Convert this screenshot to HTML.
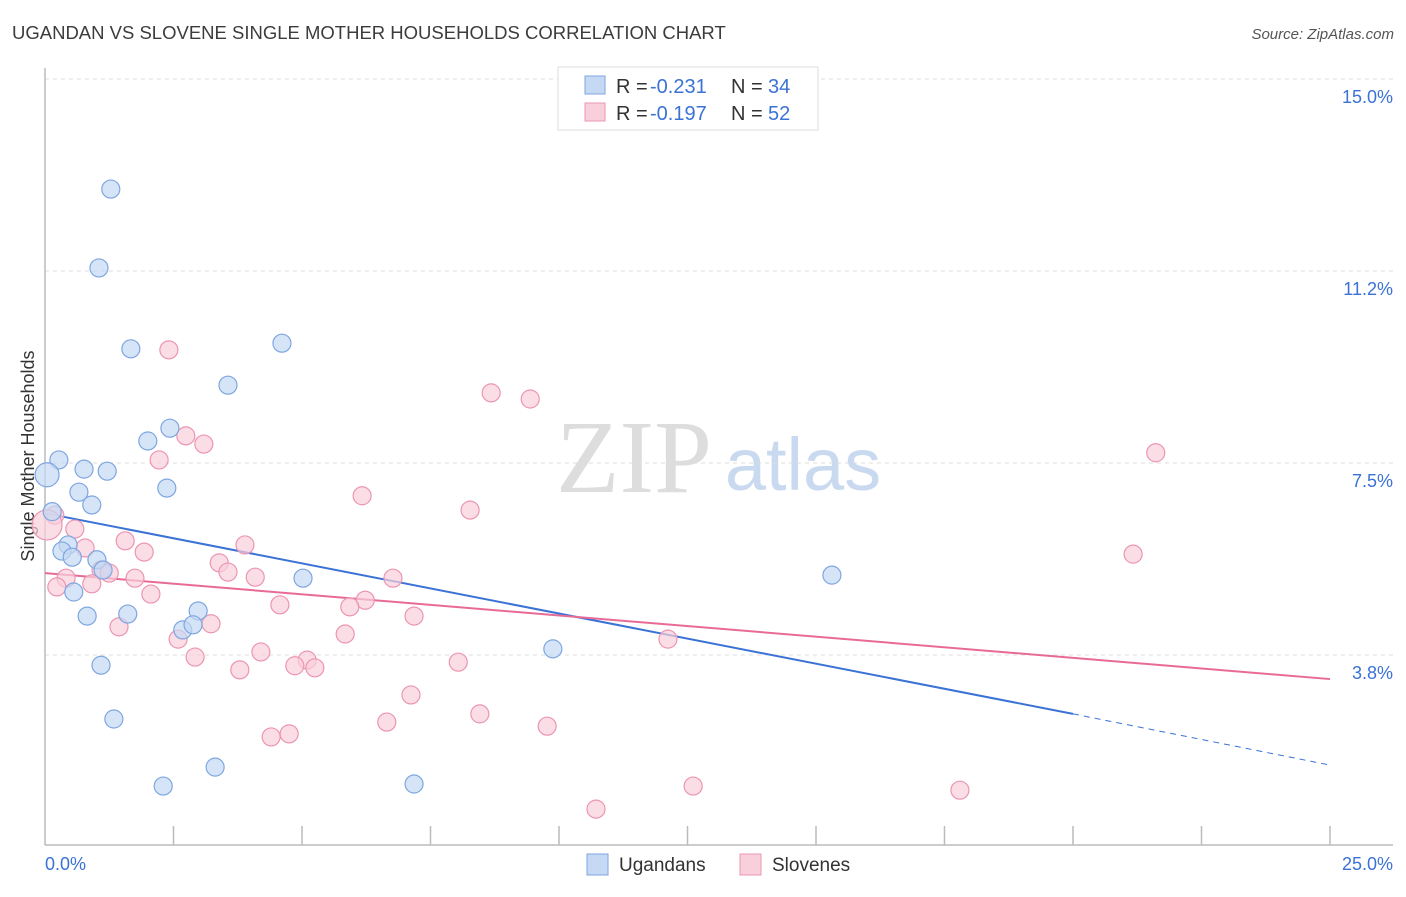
<!DOCTYPE html>
<html><head><meta charset="utf-8"><style>
body{margin:0;background:#fff;font-family:"Liberation Sans",sans-serif;}
svg text{font-family:"Liberation Sans",sans-serif;}
</style></head><body>
<svg id="chart" width="1406" height="892" viewBox="0 0 1406 892">
<text x="12" y="39" font-size="18.5" fill="#3c3c3c">UGANDAN VS SLOVENE SINGLE MOTHER HOUSEHOLDS CORRELATION CHART</text>
<text x="1394" y="39" font-size="15" fill="#555" font-style="italic" text-anchor="end">Source: ZipAtlas.com</text>
<text x="0" y="0" transform="translate(34,456) rotate(-90)" font-size="18" fill="#333" text-anchor="middle">Single Mother Households</text>
<g>
<text x="634" y="492" font-size="104" fill="#ddd" text-anchor="middle" style="font-family:'Liberation Serif',serif">ZIP</text>
<text x="803" y="490" font-size="74" fill="#c9daf0" text-anchor="middle">atlas</text>
</g>
<g id="grid"></g><g id="axes"></g><g id="trends"></g><g id="points"></g>
<g>
<rect x="558" y="67" width="260" height="63" fill="#fff" stroke="#ddd"/>
<rect x="585" y="76" width="20" height="18" fill="#c5d9f4" stroke="#7ea6e0"/>
<rect x="585" y="103" width="20" height="18" fill="#f9cfdc" stroke="#ec95b2"/>
<g font-size="20" fill="#333">
<text x="616" y="93">R =</text><text x="650" y="93" fill="#3b72d6">-0.231</text>
<text x="731" y="93">N =</text><text x="768" y="93" fill="#3b72d6">34</text>
</g>
<g font-size="20" fill="#333">
<text x="616" y="120">R =</text><text x="650" y="120" fill="#3b72d6">-0.197</text>
<text x="731" y="120">N =</text><text x="768" y="120" fill="#3b72d6">52</text>
</g>
</g>
<g>
<rect x="587" y="854" width="21" height="21" fill="#c5d9f4" stroke="#7ea6e0"/>
<text x="619" y="871" font-size="19" fill="#333">Ugandans</text>
<rect x="740" y="854" width="21" height="21" fill="#f9cfdc" stroke="#ec95b2"/>
<text x="772" y="871" font-size="19" fill="#333">Slovenes</text>
</g>
</svg>
<script>
const yTicks=[15.0,11.25,7.5,3.75];
const yTickLabels=["15.0%","11.2%","7.5%","3.8%"];
const xTickLabels=["0.0%","25.0%"];
const ugX=[1.28,1.05,1.67,4.61,3.56,2.00,2.43,0.27,0.76,1.21,0.04,0.66,2.37,0.91,0.14,0.45,0.33,0.53,1.01,1.13,5.02,15.31,0.56,0.82,1.61,2.98,2.68,2.88,9.88,1.09,1.34,3.31,2.30,7.18];
const ugY=[12.85,11.31,9.73,9.84,9.02,7.93,8.18,7.56,7.38,7.34,7.27,6.93,7.01,6.68,6.55,5.90,5.78,5.66,5.61,5.41,5.25,5.31,4.98,4.51,4.55,4.61,4.24,4.34,3.87,3.55,2.50,1.56,1.19,1.23];
const slX=[2.41,8.68,9.44,2.74,3.09,2.22,21.61,6.17,8.27,0.19,0.04,0.58,1.56,3.89,1.93,0.78,21.17,3.39,3.56,1.09,1.25,0.41,1.75,4.09,6.77,0.23,0.91,2.06,6.23,5.93,4.57,7.18,1.44,3.23,5.84,2.59,12.12,4.20,2.92,8.04,5.10,4.86,5.25,3.79,7.12,8.46,6.65,9.77,4.75,4.40,12.61,17.80,10.72];
const slY=[9.71,8.87,8.75,8.03,7.87,7.56,7.70,6.86,6.58,6.48,6.29,6.21,5.98,5.90,5.76,5.84,5.72,5.55,5.37,5.41,5.35,5.25,5.25,5.27,5.25,5.08,5.14,4.94,4.82,4.69,4.73,4.51,4.30,4.36,4.16,4.06,4.06,3.81,3.71,3.61,3.65,3.54,3.50,3.46,2.97,2.60,2.44,2.36,2.21,2.15,1.19,1.11,0.74];
const ugTrend=[6.52,2.60,1.60];
const slTrend=[5.35,3.28];
const NS="http://www.w3.org/2000/svg";
const sx=v=>45+v*51.4, sy=v=>847-v*51.2;
function mk(tag,attrs,parent){const e=document.createElementNS(NS,tag);for(const k in attrs)e.setAttribute(k,attrs[k]);parent.appendChild(e);return e;}
const grid=document.getElementById('grid'),axes=document.getElementById('axes'),trends=document.getElementById('trends'),pts=document.getElementById('points');
yTicks.forEach((t,i)=>{
 const l=mk('line',{x1:45,x2:1393,y1:sy(t),y2:sy(t),stroke:'#ddd','stroke-dasharray':'4 4'},grid);
 
 
 const tx=mk('text',{x:1393,y:sy(t)+24,'font-size':18,fill:'#3b72d6','text-anchor':'end'},grid);
 tx.textContent=yTickLabels[i];
 
 
});
mk('line',{x1:45,x2:45,y1:68,y2:845,stroke:'#bbb','stroke-width':1.5},axes);
mk('line',{x1:45,x2:1393,y1:845,y2:845,stroke:'#bbb','stroke-width':1.5},axes);
for(let i=1;i<=10;i++){const tk=mk('line',{x1:sx(i*2.5),x2:sx(i*2.5),y1:826,y2:845,stroke:'#bbb','stroke-width':1.5},axes);
 
 }
const xl0=mk('text',{x:45,y:870,'font-size':18,fill:'#3b72d6'},axes);xl0.textContent=xTickLabels[0];


const xl1=mk('text',{x:1393,y:870,'font-size':18,fill:'#3b72d6','text-anchor':'end'},axes);xl1.textContent=xTickLabels[1];


function dot(x,y,r,fill,stroke,name){const c=mk('circle',{cx:sx(x),cy:sy(y),r:r,fill:fill,stroke:stroke,'stroke-width':1.2,'fill-opacity':0.7},pts);
 
 }
slX.forEach((x,i)=>dot(x,slY[i],i===10?15:9,'#f9cfdc','#ec95b2','slovene-point'));
ugX.forEach((x,i)=>dot(x,ugY[i],i===10?12:9,'#c5d9f4','#7ea6e0','ugandan-point'));
const bl=mk('line',{x1:sx(0),y1:sy(ugTrend[0]),x2:sx(20),y2:sy(ugTrend[1]),stroke:'#3b72d6','stroke-width':2},trends);


const bd=mk('line',{x1:sx(20),y1:sy(ugTrend[1]),x2:sx(25),y2:sy(ugTrend[2]),stroke:'#3b72d6','stroke-width':1,'stroke-dasharray':'6 5'},trends);


const pl=mk('line',{x1:sx(0),y1:sy(slTrend[0]),x2:sx(25),y2:sy(slTrend[1]),stroke:'#e86a96','stroke-width':2},trends);


</script>
</body></html>
